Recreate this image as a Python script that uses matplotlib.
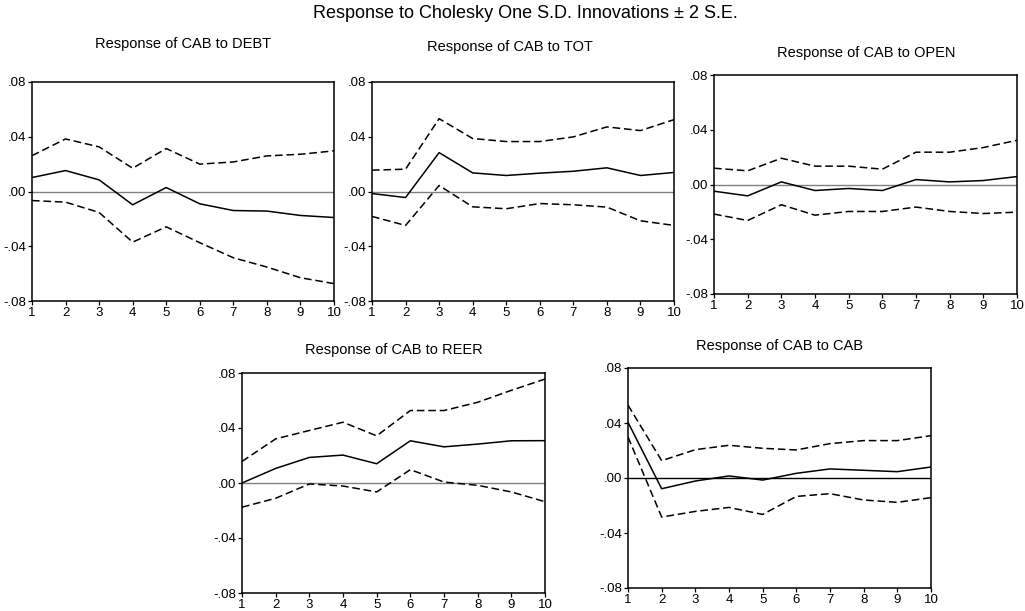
import matplotlib
matplotlib.use("Agg")
import matplotlib.pyplot as plt

plt.rcParams['font.family'] = ['Liberation Sans', 'DejaVu Sans']

W, H = 1025, 611
periods = list(range(1, 11))
yticks = [-0.08, -0.04, 0.0, 0.04, 0.08]
ytick_labels = ["-.08", "-.04", ".00", ".04", ".08"]

main_title = "Response to Cholesky One S.D. Innovations \u00b1 2 S.E."
titles = ["Response of CAB to DEBT", "Response of CAB to TOT", "Response of CAB to OPEN",
          "Response of CAB to REER", "Response of CAB to CAB"]

debt_mid = [0.0102, 0.0153, 0.0085, -0.0097, 0.0029, -0.0090, -0.0139, -0.0143, -0.0175, -0.0190]
debt_up = [0.0262, 0.0384, 0.0326, 0.0170, 0.0314, 0.0200, 0.0216, 0.0260, 0.0272, 0.0297]
debt_lo = [-0.0066, -0.0078, -0.0153, -0.0370, -0.0258, -0.0374, -0.0484, -0.0552, -0.0630, -0.0673]

tot_mid = [-0.0015, -0.0044, 0.0284, 0.0136, 0.0117, 0.0134, 0.0148, 0.0173, 0.0117, 0.0139]
tot_up = [0.0156, 0.0163, 0.0532, 0.0387, 0.0365, 0.0365, 0.0399, 0.0472, 0.0445, 0.0525]
tot_lo = [-0.0182, -0.0248, 0.0044, -0.0112, -0.0126, -0.0088, -0.0097, -0.0114, -0.0214, -0.0248]

open_mid = [-0.0049, -0.0083, 0.0019, -0.0044, -0.0029, -0.0044, 0.0036, 0.0019, 0.0029, 0.0058]
open_up = [0.0119, 0.0100, 0.0192, 0.0134, 0.0134, 0.0112, 0.0236, 0.0236, 0.0270, 0.0323]
open_lo = [-0.0216, -0.0263, -0.0148, -0.0224, -0.0197, -0.0197, -0.0165, -0.0197, -0.0212, -0.0202]

reer_mid = [0.0000, 0.0106, 0.0186, 0.0203, 0.0140, 0.0307, 0.0263, 0.0283, 0.0307, 0.0308]
reer_up = [0.0157, 0.0321, 0.0382, 0.0442, 0.0343, 0.0527, 0.0527, 0.0587, 0.0674, 0.0756]
reer_lo = [-0.0176, -0.0111, -0.0007, -0.0022, -0.0065, 0.0097, 0.0007, -0.0017, -0.0065, -0.0136]

cab_mid = [0.0405, -0.0078, -0.0022, 0.0015, -0.0015, 0.0034, 0.0066, 0.0056, 0.0046, 0.0080]
cab_up = [0.0530, 0.0126, 0.0206, 0.0238, 0.0216, 0.0204, 0.0250, 0.0272, 0.0272, 0.0308]
cab_lo = [0.0298, -0.0284, -0.0243, -0.0214, -0.0265, -0.0134, -0.0114, -0.0160, -0.0177, -0.0143]

series = [(debt_mid, debt_up, debt_lo), (tot_mid, tot_up, tot_lo), (open_mid, open_up, open_lo),
          (reer_mid, reer_up, reer_lo), (cab_mid, cab_up, cab_lo)]

# pixel boxes: left, right, top, bottom
boxes = [(32, 334, 82, 301), (372, 674, 82, 301), (714, 1017, 75, 294),
         (242, 545, 373, 593), (628, 931, 368, 588)]
title_pos = [(183, 44), (510, 47), (866, 53), (394, 350), (780, 346)]
zero_colors = ["#808080", "#808080", "#808080", "#808080", "black"]

fig = plt.figure(figsize=(W / 100, H / 100), dpi=100)
fig.text(525 / W, 1 - 13 / H, main_title, ha="center", va="center", fontsize=13)

for i, ((l, r, t, b), (mid, up, lo)) in enumerate(zip(boxes, series)):
    ax = fig.add_axes([l / W, 1 - b / H, (r - l) / W, (b - t) / H])
    ax.axhline(0, color=zero_colors[i], lw=1.0, zorder=1)
    ax.plot(periods, mid, color="black", lw=1.1, zorder=3)
    ax.plot(periods, up, color="black", lw=1.1, linestyle=(0, (5, 2.5)), zorder=3)
    ax.plot(periods, lo, color="black", lw=1.1, linestyle=(0, (5, 2.5)), zorder=3)
    ax.set_xlim(1, 10)
    ax.set_ylim(-0.08, 0.08)
    ax.set_xticks(periods)
    ax.set_xticklabels([str(p) for p in periods])
    ax.set_yticks(yticks)
    ax.set_yticklabels(ytick_labels)
    ax.tick_params(axis="both", direction="out", length=3, width=0.9, pad=1.5,
                   labelsize=9.5, colors="black")
    for s in ax.spines.values():
        s.set_linewidth(1.1)
        s.set_color("black")
    tx, ty = title_pos[i]
    fig.text(tx / W, 1 - ty / H, titles[i], ha="center", va="center", fontsize=10.5)

fig.savefig("out.png", dpi=100)
